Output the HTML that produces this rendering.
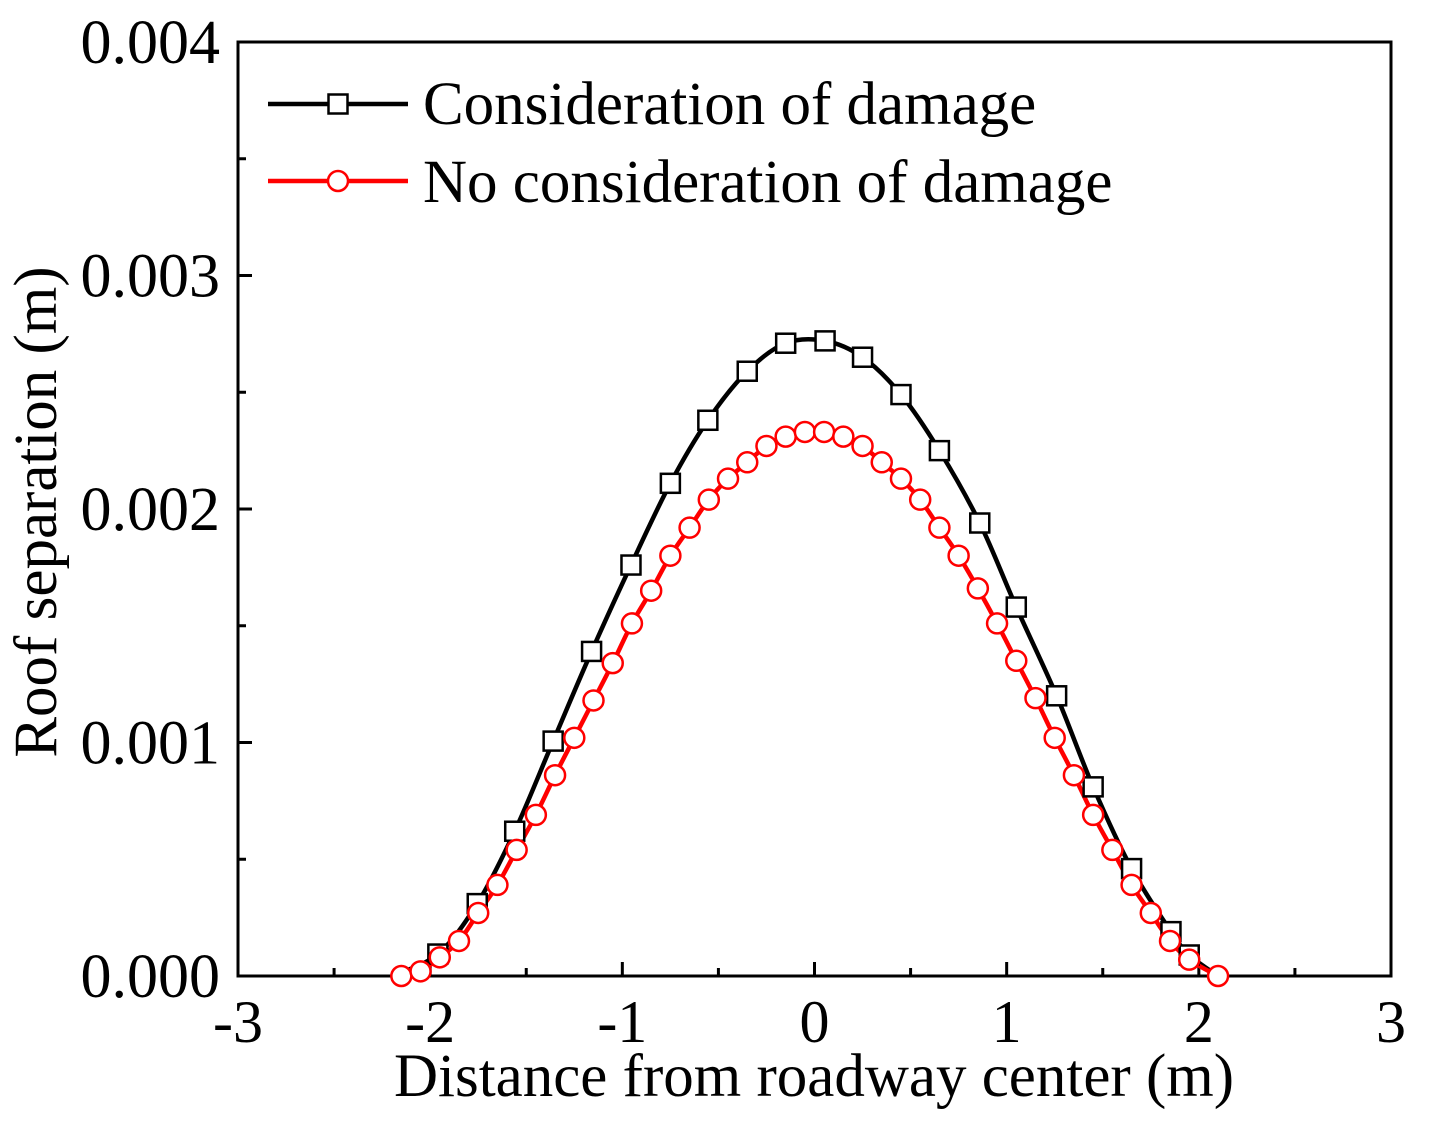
<!DOCTYPE html>
<html><head><meta charset="utf-8"><style>
html,body{margin:0;padding:0;background:#fff;}
svg{display:block;font-family:"Liberation Serif",serif;}
</style></head><body>
<svg id="chart" width="1450" height="1134" viewBox="0 0 1450 1134"></svg>
<script>
const blackX=[-2.2,-1.96,-1.755,-1.56,-1.36,-1.16,-0.955,-0.75,-0.555,-0.35,-0.15,0.055,0.25,0.45,0.65,0.86,1.05,1.26,1.45,1.65,1.855,1.95,2.1];
const blackY=[0,0.000094,0.00031,0.00062,0.001006,0.00139,0.00176,0.00211,0.00238,0.00259,0.00271,0.00272,0.00265,0.00249,0.00225,0.00194,0.00158,0.0012,0.00081,0.00046,0.00019,0.00009,0];
const blackMarker=[0,1,1,1,1,1,1,1,1,1,1,1,1,1,1,1,1,1,1,1,1,1,0];
const redX=[-2.15,-2.05,-1.95,-1.85,-1.75,-1.65,-1.55,-1.45,-1.35,-1.25,-1.15,-1.05,-0.95,-0.85,-0.75,-0.65,-0.55,-0.45,-0.35,-0.25,-0.15,-0.05,0.05,0.15,0.25,0.35,0.45,0.55,0.65,0.75,0.85,0.95,1.05,1.15,1.25,1.35,1.45,1.55,1.65,1.75,1.85,1.95,2.1];
const redY=[0,0.00002,0.00008,0.00015,0.00027,0.00039,0.00054,0.00069,0.00086,0.00102,0.00118,0.00134,0.00151,0.00165,0.0018,0.00192,0.00204,0.00213,0.0022,0.00227,0.00231,0.00233,0.00233,0.00231,0.00227,0.0022,0.00213,0.00204,0.00192,0.0018,0.00166,0.00151,0.00135,0.00119,0.00102,0.00086,0.00069,0.00054,0.00039,0.00027,0.00015,0.00007,0];
const xTicks=[-3,-2,-1,0,1,2,3];
const xTickLabels=["-3","-2","-1","0","1","2","3"];
const yTicks=[0,0.001,0.002,0.003,0.004];
const yTickLabels=["0.000","0.001","0.002","0.003","0.004"];

const NS="http://www.w3.org/2000/svg";
const svg=document.getElementById('chart');
const L=238,R=1391,T=42,B=976;
const xs=v=>L+(v+3)/6*(R-L);
const ys=v=>B-v/0.004*(B-T);
function mk(tag,attrs,parent){const e=document.createElementNS(NS,tag);for(const k in attrs)e.setAttribute(k,attrs[k]);(parent||svg).appendChild(e);return e;}

const frame=mk('rect',{x:L,y:T,width:R-L,height:B-T,fill:'none',stroke:'#000','stroke-width':3});



for(let i=0;i<xTicks.length;i++){
  const x=xs(xTicks[i]);
  const t=mk('line',{x1:x,x2:x,y1:B,y2:B-14,stroke:'#000','stroke-width':3});
  
  
  if(i<xTicks.length-1){const xm=xs((xTicks[i]+xTicks[i+1])/2);
    const m=mk('line',{x1:xm,x2:xm,y1:B,y2:B-8,stroke:'#000','stroke-width':3});
    
    }
  const lb=mk('text',{x:x,y:B+66,'text-anchor':'middle','font-size':60});
  lb.textContent=xTickLabels[i];
  
  
}
for(let i=0;i<yTicks.length;i++){
  const y=ys(yTicks[i]);
  const t=mk('line',{x1:L,x2:L+14,y1:y,y2:y,stroke:'#000','stroke-width':3});
  
  
  if(i<yTicks.length-1){const ym=ys((yTicks[i]+yTicks[i+1])/2);
    const m=mk('line',{x1:L,x2:L+8,y1:ym,y2:ym,stroke:'#000','stroke-width':3});
    
    }
  const lb=mk('text',{x:L-18,y:y+21,'text-anchor':'end','font-size':62});
  lb.textContent=yTickLabels[i];
  
  
}
const xt=mk('text',{x:814,y:1096,'text-anchor':'middle','font-size':61});
xt.textContent='Distance from roadway center (m)';


const yt=mk('text',{x:0,y:0,'text-anchor':'middle','font-size':61,transform:'translate(56,512) rotate(-90)'});
yt.textContent='Roof separation (m)';



function smooth(pts){
  let d='M'+pts[0][0]+','+pts[0][1];
  for(let i=0;i<pts.length-1;i++){
    const p0=pts[Math.max(0,i-1)],p1=pts[i],p2=pts[i+1],p3=pts[Math.min(pts.length-1,i+2)];
    const c1=[p1[0]+(p2[0]-p0[0])/6,p1[1]+(p2[1]-p0[1])/6];
    const c2=[p2[0]-(p3[0]-p1[0])/6,p2[1]-(p3[1]-p1[1])/6];
    d+=' C'+c1[0]+','+c1[1]+' '+c2[0]+','+c2[1]+' '+p2[0]+','+p2[1];
  }
  return d;
}
const bl=mk('path',{d:smooth(blackX.map((v,i)=>[xs(v),ys(blackY[i])])),fill:'none',stroke:'#000','stroke-width':4.5});


const rl=mk('path',{d:smooth(redX.map((v,i)=>[xs(v),ys(redY[i])])),fill:'none',stroke:'#f00','stroke-width':4.5});


for(let i=0;i<blackX.length;i++){ if(!blackMarker[i])continue;
  const s=mk('rect',{x:xs(blackX[i])-9.5,y:ys(blackY[i])-9.5,width:19,height:19,fill:'#fff',stroke:'#000','stroke-width':2.5});
  
  
}
for(let i=0;i<redX.length;i++){
  const c=mk('circle',{cx:xs(redX[i]),cy:ys(redY[i]),r:10,fill:'#fff',stroke:'#f00','stroke-width':2.5});
  
  
}
// legend
const l1=mk('line',{x1:268,x2:408,y1:104,y2:104,stroke:'#000','stroke-width':4.5});


const l1m=mk('rect',{x:328.5,y:94.5,width:19,height:19,fill:'#fff',stroke:'#000','stroke-width':2.5});


const l1t=mk('text',{x:423,y:124,'font-size':61});
l1t.textContent='Consideration of damage';


const l2=mk('line',{x1:268,x2:408,y1:181,y2:181,stroke:'#f00','stroke-width':4.5});


const l2m=mk('circle',{cx:338,cy:181,r:10,fill:'#fff',stroke:'#f00','stroke-width':2.5});


const l2t=mk('text',{x:423,y:202,'font-size':61});
l2t.textContent='No consideration of damage';


</script>
</body></html>
